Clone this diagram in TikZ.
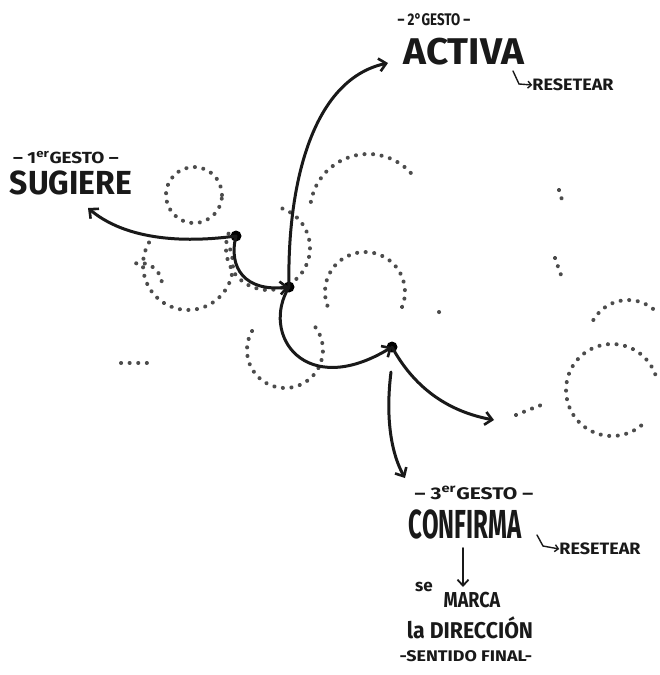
\documentclass[tikz,border=0pt]{standalone}
\usepackage{fontspec}
\usepackage{graphicx}
\setmainfont{Fira Sans}
\usetikzlibrary{arrows.meta}
\tikzset{
  ink/.style={line width=3pt, draw=black!90, line cap=round},
  tip/.style={-{Straight Barb[length=7pt,width=13pt,line width=2.6pt]}},
  smalltip/.style={-{Straight Barb[length=3.5pt,width=7pt,line width=1.4pt]}},
  dots/.style={draw=black!70, line width=4pt, line cap=round, dash pattern=on 0.1pt off 8.5pt},
  big/.style={font=\bfseries\fontsize{31}{31}\selectfont, inner sep=0pt, text=black!90},
  lab/.style={font=\bfseries\fontsize{14}{14}\selectfont, inner sep=0pt, text=black!90},
  mid/.style={font=\bfseries\fontsize{18}{18}\selectfont, inner sep=0pt, text=black!90},
  dotnode/.style={circle, fill=black, inner sep=0pt, minimum size=11pt}
}
\begin{document}
\begin{tikzpicture}[x=1pt,y=-1pt]
\useasboundingbox[fill=white] (0,0) rectangle (659,675);

% dotted circles (background traces)
\draw[dots] (194,195) circle (28pt);
\draw[dots] (188,265) ++(150:45pt) arc[start angle=150,end angle=390,radius=45pt];
\draw[dots] (268,248) ++(160:42pt) arc[start angle=160,end angle=430,radius=42pt];
\draw[dots] (368,212) ++(170:58pt) arc[start angle=170,end angle=40,radius=58pt];
\draw[dots] (365,292) ++(200:40pt) arc[start angle=200,end angle=-30,radius=40pt];
\draw[dots] (285,350) ++(150:38pt) arc[start angle=150,end angle=400,radius=38pt];
\draw[dots] (612,390) ++(20:46pt) arc[start angle=20,end angle=320,radius=46pt];
\draw[dots] (628,340) ++(150:40pt) arc[start angle=150,end angle=40,radius=40pt];
\draw[dots] (140,285) ++(100:22pt) arc[start angle=100,end angle=10,radius=22pt];
\draw[dots] (121,363) -- (152,363);
\draw[dots] (559,190) -- (562,200);
\draw[dots] (555,258) -- (562,278);
\draw[dots] (516,415) -- (541,405);
\draw[dots] (439,312) -- (440,313);

% gesture points
\node[dotnode] (A) at (236,236) {};
\node[dotnode] (B) at (289,287) {};
\node[dotnode] (C) at (392,347) {};

% labels
\node[lab] (g2) at (434,20) {\scalebox{0.95}[1.2]{-- 2°GESTO --}};
\node[big] (activa) at (464,52) {\scalebox{1.25}[1.2]{ACTIVA}};
\node[mid, font=\bfseries\fontsize{15}{15}\selectfont] (res1) at (573,85) {\scalebox{1.2}[1.1]{RESETEAR}};

\node[lab] (g1) at (66,158) {\scalebox{1.35}[1.15]{-- 1\textsuperscript{er}GESTO --}};
\node[big, font=\bfseries\fontsize{29}{29}\selectfont] (sug) at (71,183) {\scalebox{1.1}[1.15]{SUGIERE}};

\node[lab] (g3) at (474,493) {\scalebox{1.5}[1.2]{-- 3\textsuperscript{er}GESTO --}};
\node[big, font=\bfseries\fontsize{27}{27}\selectfont] (conf) at (465,524) {\scalebox{0.89}[1.5]{CONFIRMA}};
\node[mid, font=\bfseries\fontsize{15}{15}\selectfont] (res2) at (600,549) {\scalebox{1.2}[1.1]{RESETEAR}};

\node[lab, font=\bfseries\fontsize{17}{17}\selectfont] (se) at (424,587) {se};
\node[mid] (marca) at (472,600) {\scalebox{1.0}[1.2]{MARCA}};
\node[mid, font=\bfseries\fontsize{19}{19}\selectfont] (dir) at (470,628) {\scalebox{1.12}[1.2]{la DIRECCIÓN}};
\node[lab] (fin) at (466,656) {\scalebox{1.28}[1.1]{-SENTIDO FINAL-}};

% arrow endpoints
\coordinate (sugTip) at (88,208);
\coordinate (actTip) at (388,63);
\coordinate (rightTip) at (494,420);
\coordinate (downStart) at (391,372);
\coordinate (downTip) at (405,478);
\coordinate (h1a) at (513,71);
\coordinate (h1b) at (519,84);
\coordinate (h2a) at (537,535);
\coordinate (h2b) at (543,546);
\coordinate (cdA) at (463,548);
\coordinate (cdB) at (463,587);

% connectors
\draw[ink,tip] (A.center) .. controls (170,245) and (120,235) .. (sugTip);
\draw[ink,tip] (A.center) .. controls (228,268) and (245,292) .. (B.center);
\draw[ink,tip] (B.center) .. controls (287,190) and (310,80) .. (actTip);
\draw[ink,tip] (B.center) .. controls (260,335) and (305,400) .. (C.center);
\draw[ink,tip] (C.center) .. controls (410,380) and (440,410) .. (rightTip);
\draw[ink,tip] (downStart) .. controls (385,420) and (392,455) .. (downTip);
\draw[ink,line width=1.4pt,smalltip] (h1a) -- (h1b) -- (res1.west);
\draw[ink,line width=1.4pt,smalltip] (h2a) -- (h2b) -- (res2.west);
\draw[ink,line width=2pt,-{Straight Barb[length=6pt,width=11pt,line width=1.8pt]}] (cdA) -- (cdB);
\end{tikzpicture}
\end{document}
